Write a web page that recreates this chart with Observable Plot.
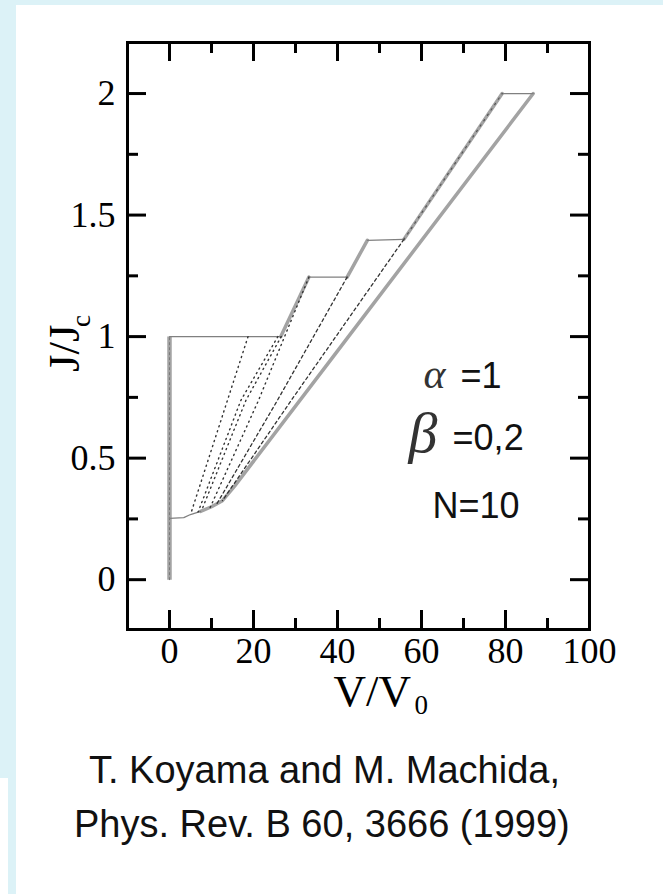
<!DOCTYPE html>
<html>
<head>
<meta charset="utf-8">
<script src="https://cdn.jsdelivr.net/npm/d3@7"></script>
<script src="https://cdn.jsdelivr.net/npm/@observablehq/plot@0.6"></script>
<style>
  html, body { margin: 0; padding: 0; }
  body { width: 663px; height: 894px; background: #dcf2f7; position: relative; overflow: hidden; }
  #panel { position: absolute; left: 16px; top: 5px; right: 0; bottom: 0; background: #fff; }
  #strip { position: absolute; left: 0; top: 778px; width: 8px; bottom: 0; background: #fff; }
  #chart { position: absolute; left: 0; top: 0; }
  .cap { position: absolute; font-family: "Liberation Sans", Arial, sans-serif; font-size: 38px; line-height: 38px; color: #111; white-space: nowrap; }
</style>
</head>
<body>
<div id="panel"></div>
<div id="strip"></div>
<div id="chart"></div>
<div class="cap" style="left:89px; top:751px;">T. Koyama and M. Machida,</div>
<div class="cap" style="left:74px; top:805px;">Phys. Rev. B 60, 3666 (1999)</div>
<script>
// ---- tick values / labels ----
const xMajor = [0, 20, 40, 60, 80, 100];
const xMinor = [10, 30, 50, 70, 90];
const yMajor = [0, 0.5, 1, 1.5, 2];
const yMinor = [0.25, 0.75, 1.25, 1.75];

// ---- curves (V/V0, J/Jc) ----
// thick gray lines
const zeroV = [0, 0];            const zeroJ = [0, 1.0];
const riser1V = [26.5, 33.2];    const riser1J = [1.0, 1.245];
const riser2V = [42.3, 47.1];    const riser2J = [1.245, 1.396];
const topBranchV = [55.8, 79.2]; const topBranchJ = [1.4, 2.0];
const outerV = [86.6, 38.3, 15.5, 12.6, 10.0, 7.4];
const outerJ = [2.0, 0.902, 0.385, 0.325, 0.30, 0.281];
// thin gray lines
const step0V = [0, 26.5];        const step0J = [1.0, 1.0];
const step1V = [33.2, 42.3];     const step1J = [1.245, 1.245];
const step2V = [47.1, 55.8];     const step2J = [1.396, 1.4];
const step3V = [79.2, 86.6];     const step3J = [2.0, 2.0];
const bottomV = [0, 3.4, 5.0, 7.4];
const bottomJ = [0.252, 0.255, 0.268, 0.281];
// dotted / dashed inner branches
const b1V = [18.7, 5.0];               const b1J = [1.0, 0.268];
const b2aV = [25.8, 17.0, 6.8];        const b2aJ = [1.0, 0.738, 0.278];
const b2bV = [26.6, 18.2, 7.6];        const b2bJ = [1.0, 0.738, 0.283];
const b3V = [33.2, 21.2, 9.5];         const b3J = [1.245, 0.738, 0.29];
const b4V = [42.3, 25.7, 11.2];        const b4J = [1.245, 0.738, 0.31];
const b5V = [55.8, 29.0, 12.6];        const b5J = [1.4, 0.738, 0.325];

// ---- annotations ----
const noteText = ["\u03B1", "=1", "\u03B2", "=0,2", "N=10"];
const noteV = [60.5, 69.3, 56.9, 67.4, 62.6];
const noteJ = [0.787, 0.787, 0.524, 0.532, 0.252];
const noteFont = ["serif", "sans", "serif", "sans", "sans"];
const noteSize = [42, 36, 58, 36, 36];

function rows(name, V, J) { return V.map((v, i) => ({series: name, v, j: J[i]})); }

const thick = [
  ...rows("r1", riser1V, riser1J), ...rows("r2", riser2V, riser2J),
  ...rows("top", topBranchV, topBranchJ), ...rows("outer", outerV, outerJ)
];
const thin = [
  ...rows("s0", step0V, step0J), ...rows("s1", step1V, step1J), ...rows("s2", step2V, step2J),
  ...rows("s3", step3V, step3J), ...rows("bottom", bottomV, bottomJ)
];
const dotted = [...rows("b1", b1V, b1J), ...rows("b2a", b2aV, b2aJ), ...rows("b2b", b2bV, b2bJ), ...rows("b3", b3V, b3J)];
const dashed = [...rows("b4", b4V, b4J), ...rows("b5", b5V, b5J)];
const notes = noteText.map((t, i) => ({t, v: noteV[i], j: noteJ[i], f: noteFont[i], s: noteSize[i]}));

const W = 663, H = 735, mL = 127, mR = 74, mT = 42, mB = 106;
const iw = W - mL - mR, ih = H - mT - mB;
const serif = "'Liberation Serif', 'Times New Roman', serif";
const sans = "'Liberation Sans', Arial, sans-serif";

const plot = Plot.plot({
  width: W, height: H,
  marginLeft: mL, marginRight: mR, marginTop: mT, marginBottom: mB,
  style: {background: "transparent", fontFamily: serif, color: "#000", overflow: "visible"},
  x: {domain: [-10, 100]},
  y: {domain: [-0.205, 2.21]},
  marks: [
    Plot.axisX(xMajor, {tickSize: 0, tickPadding: 8, fontSize: 36, label: null, tickFormat: d => String(d)}),
    Plot.axisY(yMajor, {tickSize: 0, tickPadding: 12, fontSize: 36, label: null, tickFormat: d => String(d)}),
    // inward ticks
    Plot.tickX(xMajor, {x: d => d, insetTop: ih - 19, stroke: "#000", strokeWidth: 3}),
    Plot.tickX(xMajor, {x: d => d, insetBottom: ih - 19, stroke: "#000", strokeWidth: 3}),
    Plot.tickX(xMinor, {x: d => d, insetTop: ih - 11, stroke: "#000", strokeWidth: 3}),
    Plot.tickX(xMinor, {x: d => d, insetBottom: ih - 11, stroke: "#000", strokeWidth: 3}),
    Plot.tickY(yMajor, {y: d => d, insetRight: iw - 19, stroke: "#000", strokeWidth: 3}),
    Plot.tickY(yMajor, {y: d => d, insetLeft: iw - 19, stroke: "#000", strokeWidth: 3}),
    Plot.tickY(yMinor, {y: d => d, insetRight: iw - 11, stroke: "#000", strokeWidth: 3}),
    Plot.tickY(yMinor, {y: d => d, insetLeft: iw - 11, stroke: "#000", strokeWidth: 3}),
    // curves
    Plot.line(rows("zero", zeroV, zeroJ), {x: "v", y: "j", stroke: "#a3a3a3", strokeWidth: 4.5, strokeLinecap: "butt"}),
    Plot.line(rows("zero", zeroV, zeroJ), {x: "v", y: "j", stroke: "#7a7a7a", strokeWidth: 1, strokeDasharray: "2,3"}),
    Plot.line(thick, {x: "v", y: "j", z: "series", stroke: "#a3a3a3", strokeWidth: 3.5}),
    Plot.line(thin, {x: "v", y: "j", z: "series", stroke: "#808080", strokeWidth: 1.3}),
    Plot.line(dotted, {x: "v", y: "j", z: "series", stroke: "#333", strokeWidth: 1.4, strokeDasharray: "1.2,4"}),
    Plot.line(dashed, {x: "v", y: "j", z: "series", stroke: "#333", strokeWidth: 1.3, strokeDasharray: "3,3"}),
    Plot.line(rows("topdots", topBranchV, topBranchJ), {x: "v", y: "j", stroke: "#555", strokeWidth: 1.2, strokeDasharray: "1.5,5"}),
    Plot.frame({stroke: "#000", strokeWidth: 3}),
    // axis titles
    Plot.text(["V/V"], {frameAnchor: "bottom", dx: -25, dy: 76, textAnchor: "start", lineAnchor: "bottom", fontSize: 45, fontFamily: serif}),
    Plot.text(["0"], {frameAnchor: "bottom", dx: 56, dy: 84, textAnchor: "start", lineAnchor: "bottom", fontSize: 27, fontFamily: serif}),
    Plot.text(["J/J"], {frameAnchor: "left", dx: -49, dy: 36, rotate: -90, textAnchor: "start", lineAnchor: "bottom", fontSize: 45, fontFamily: serif}),
    Plot.text(["c"], {frameAnchor: "left", dx: -38, dy: -9, rotate: -90, textAnchor: "start", lineAnchor: "bottom", fontSize: 27, fontFamily: serif}),
    // annotations
    Plot.text(notes.filter(d => d.f === "serif"), {x: "v", y: "j", text: "t", fontSize: d => d.s, textAnchor: "start", lineAnchor: "bottom", fontFamily: serif, fontStyle: "italic", fill: "#333"}),
    Plot.text(notes.filter(d => d.f === "sans"), {x: "v", y: "j", text: "t", fontSize: 36, textAnchor: "start", lineAnchor: "bottom", fontFamily: sans, fill: "#111"})
  ]
});
document.getElementById("chart").appendChild(plot);
</script>
</body>
</html>
